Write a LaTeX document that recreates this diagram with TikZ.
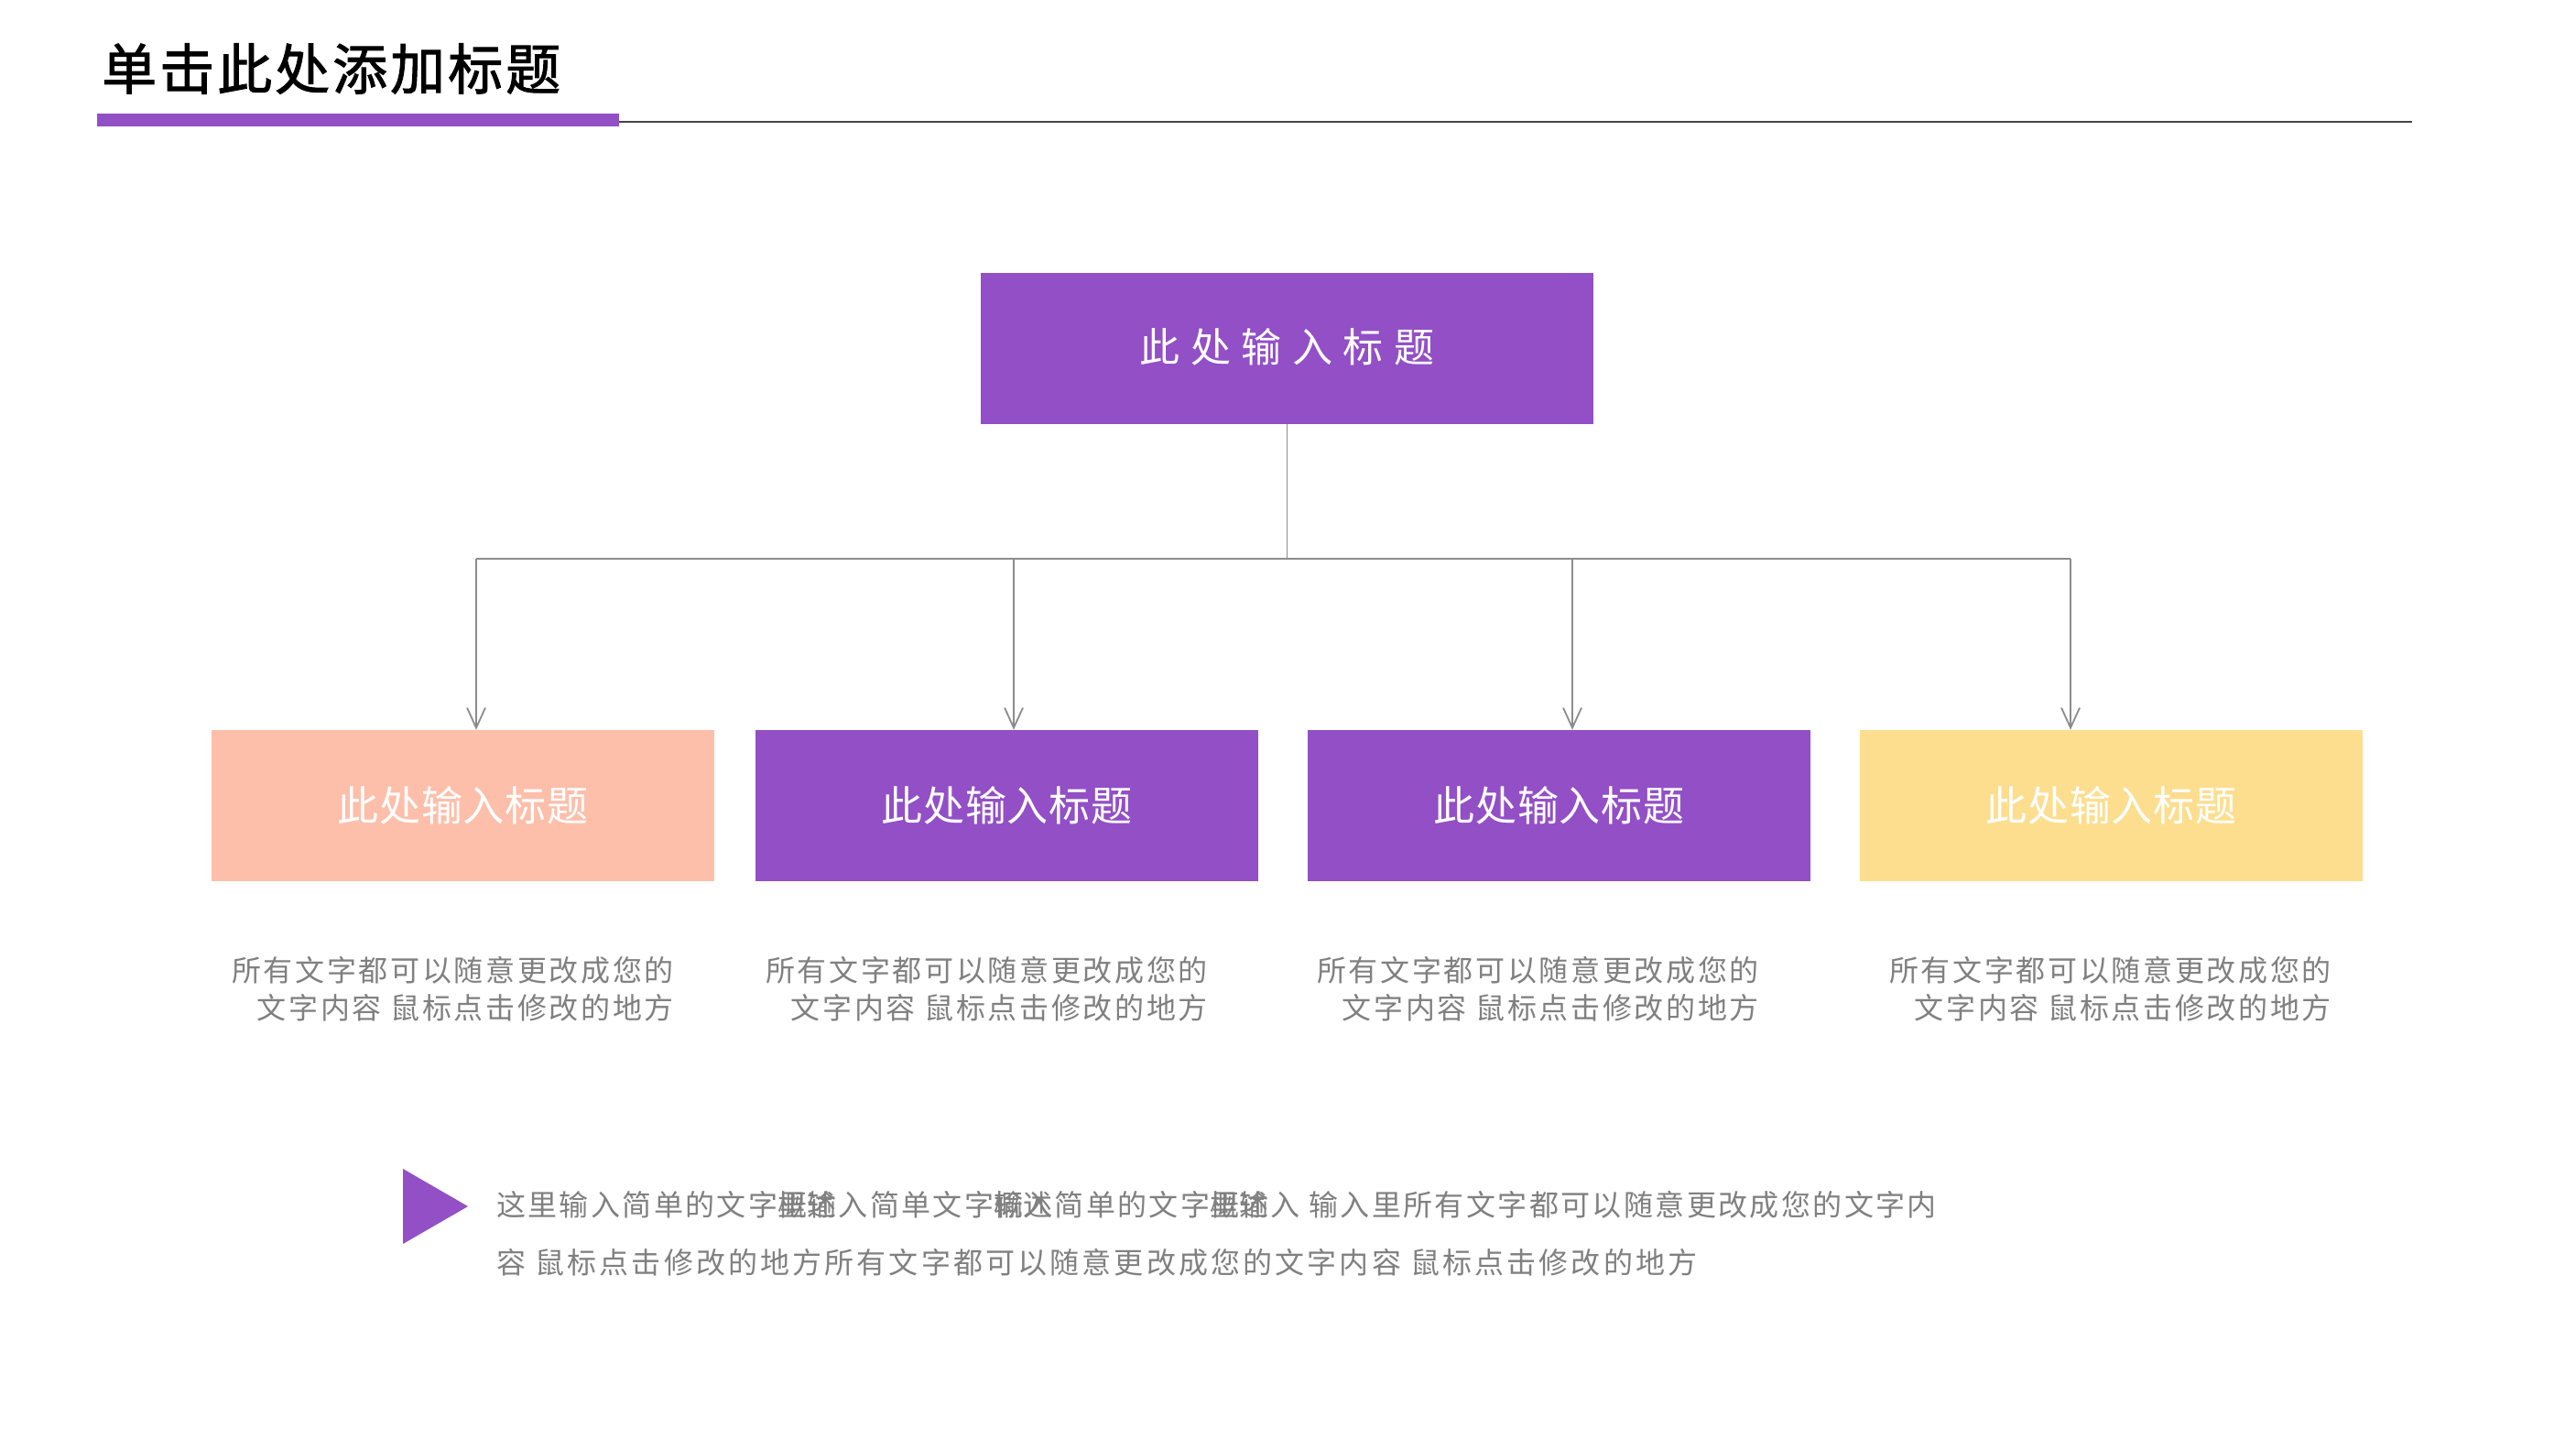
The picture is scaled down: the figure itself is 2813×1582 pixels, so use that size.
\documentclass[tikz,border=0pt]{standalone}
\usepackage{fontspec}
\setmainfont{Noto Sans CJK SC}
\newfontfamily\ttlfont[FakeBold=1.6]{Noto Sans CJK SC}
\usetikzlibrary{arrows.meta}
\definecolor{purp}{RGB}{146,79,198}
\definecolor{peach}{RGB}{253,191,170}
\definecolor{sand}{RGB}{253,222,143}
\definecolor{txtgray}{RGB}{128,128,128}
\definecolor{linegray}{RGB}{140,140,140}
\definecolor{rulegray}{RGB}{70,70,70}
\newcommand\ovl[2]{\rlap{#1}#2}
\tikzset{
	hdbox/.style={rectangle,minimum width=549pt,minimum height=165pt,inner sep=0pt,text=white,
		font=\fontsize{45}{50}\selectfont\addfontfeatures{LetterSpace=2}},
	desc/.style={anchor=east,align=right,inner sep=0pt,text=txtgray,
		font=\fontsize{32}{41}\selectfont\addfontfeatures{LetterSpace=8.3}},
	para/.style={anchor=west,inner sep=0pt,text=txtgray,
		font=\fontsize{32}{40}\selectfont\addfontfeatures{LetterSpace=7.5}},
	link/.style={linegray,line width=1.8pt},
}
\begin{document}
\begin{tikzpicture}[x=1pt,y=-1pt,>={Straight Barb[length=22pt,width=20pt]}]
		\fill[white] (0,0) rectangle (2813,1582);
		\useasboundingbox (0,0) rectangle (2813,1582);
		% title and rule
		\node[anchor=west,inner sep=0pt,font=\fontsize{60}{70}\ttlfont\addfontfeatures{LetterSpace=5}] (title) at (111,75) {单击此处添加标题};
		\fill[purp] (106,124) rectangle (676,138);
		\draw[rulegray,line width=2pt] (676,133) -- (2634,133);
		% top box
		\node[hdbox,fill=purp,minimum width=669pt,font=\fontsize{44}{50}\selectfont\addfontfeatures{LetterSpace=4}] (top) at (1405.5,380.5) {\raisebox{7pt}{此 处 输 入 标 题}};
		% second row
		\node[hdbox,fill=peach] (b1) at (505.5,879.5) {\raisebox{4pt}{此处输入标题}};
		\node[hdbox,fill=purp] (b2) at (1099.5,879.5) {\raisebox{4pt}{此处输入标题}};
		\node[hdbox,fill=purp] (b3) at (1702.5,879.5) {\raisebox{4pt}{此处输入标题}};
		\node[hdbox,fill=sand] (b4) at (2305.5,879.5) {\raisebox{4pt}{此处输入标题}};
		% connectors
		\coordinate (hub) at (1405.5,610);
		\coordinate (bus1) at (520,610);
		\coordinate (bus2) at (1107,610);
		\coordinate (bus3) at (1717,610);
		\coordinate (bus4) at (2261,610);
		\draw[link] (top.south) -- (hub);
		\draw[link] (bus1) -- (bus4);
		\draw[link,->] (bus1) -- (bus1 |- b1.north);
		\draw[link,->] (bus2) -- (bus2 |- b2.north);
		\draw[link,->] (bus3) -- (bus3 |- b3.north);
		\draw[link,->] (bus4) -- (bus4 |- b4.north);
		% descriptions
		\node[desc] (d1) at (736,1080) {所有文字都可以随意更改成您的\\文字内容 鼠标点击修改的地方};
		\node[desc] (d2) at (1319,1080) {所有文字都可以随意更改成您的\\文字内容 鼠标点击修改的地方};
		\node[desc] (d3) at (1921,1080) {所有文字都可以随意更改成您的\\文字内容 鼠标点击修改的地方};
		\node[desc] (d4) at (2546,1080) {所有文字都可以随意更改成您的\\文字内容 鼠标点击修改的地方};
		% note at the bottom
		\fill[purp] (440,1276) -- (511,1317) -- (440,1358) -- cycle;
		\node[para] (p1) at (542,1315) {这里输入简单的文字\ovl{概}{里}\ovl{述}{输}入简单文字\ovl{概}{输}\ovl{述}{入}简单的文字\ovl{概}{里}\ovl{述}{输}入 输入里所有文字都可以随意更改成您的文字内};
		\node[para,font=\fontsize{32}{40}\selectfont\addfontfeatures{LetterSpace=9.8}] (p2) at (542,1378) {容 鼠标点击修改的地方所有文字都可以随意更改成您的文字内容 鼠标点击修改的地方};
\end{tikzpicture}
\end{document}
